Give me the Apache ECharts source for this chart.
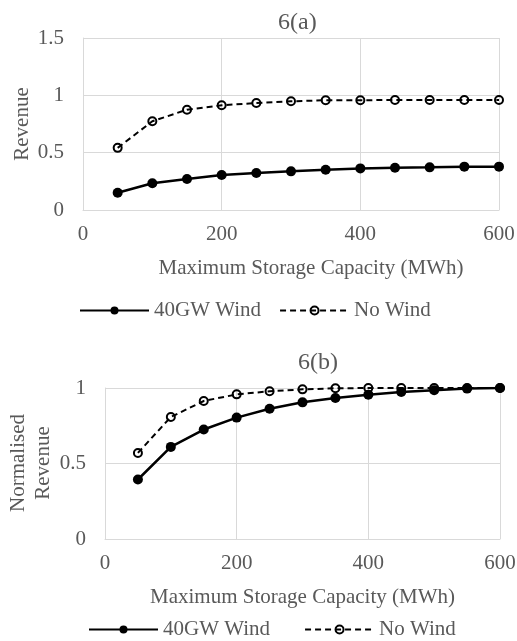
<!DOCTYPE html>
<html><head><meta charset="utf-8">
<script src="https://cdn.jsdelivr.net/npm/echarts@6/dist/echarts.min.js"></script>
<style>html,body{margin:0;padding:0;background:#fff}#c{width:517px;height:641px}</style>
</head><body><div id="c"></div>
<script>
const capacity = [50,100,150,200,250,300,350,400,450,500,550,600];
const revWind = [0.151,0.233,0.27,0.305,0.323,0.337,0.351,0.363,0.369,0.372,0.378,0.378];
const revNoWind = [0.542,0.774,0.875,0.913,0.933,0.948,0.957,0.957,0.96,0.96,0.96,0.96];
const normWind = [0.394,0.61,0.725,0.804,0.863,0.905,0.934,0.956,0.974,0.985,0.996,1.0];
const normNoWind = [0.57,0.808,0.914,0.958,0.978,0.991,0.998,1.0,1.0,1.0,1.0,1.0];
const titles = ['6(a)','6(b)'];
const seriesNames = ['40GW Wind','No Wind'];
const xName = 'Maximum Storage Capacity (MWh)';
const yNames = ['Revenue','Normalised\nRevenue'];

const FONT = 'Liberation Serif';
const TXT = '#595959';
const GRID = '#d9d9d9';
const pair = (xs, ys) => xs.map((x,i)=>[x, ys[i]]);

function xAxis(gi, padLeft){
  return {type:'value', gridIndex:gi, min:0, max:600, interval:200,
    name:xName, nameLocation:'middle', nameGap:48,
    nameTextStyle:{fontFamily:FONT, fontSize:21, color:TXT, padding:[0,0,0,padLeft]},
    axisLine:{show:true, lineStyle:{color:GRID, width:1}},
    axisTick:{show:false},
    axisLabel:{fontFamily:FONT, fontSize:21, color:TXT, margin:14},
    splitLine:{show:true, lineStyle:{color:GRID, width:1}}};
}
function yAxis(gi, max){
  return {type:'value', gridIndex:gi, min:0, max:max, interval:0.5,
    axisLine:{show:true, lineStyle:{color:GRID, width:1}},
    axisTick:{show:false},
    axisLabel:{fontFamily:FONT, fontSize:21, color:TXT, margin:19},
    splitLine:{show:true, lineStyle:{color:GRID, width:1}}};
}
function yTitle(text, x, y){
  return {type:'text', x:x, y:y, rotation:Math.PI/2,
    style:{text:text, font:'21px "Liberation Serif"', fill:TXT, align:'center', verticalAlign:'middle', lineHeight:25}};
}
function solid(gi, data){
  return {name:seriesNames[0], type:'line', xAxisIndex:gi, yAxisIndex:gi, data:data,
    symbol:'circle', symbolSize:10, lineStyle:{color:'#000', width:2.5},
    itemStyle:{color:'#000'}, animation:false};
}
function dashed(gi, data){
  return {name:seriesNames[1], type:'line', xAxisIndex:gi, yAxisIndex:gi, data:data,
    symbol:'circle', symbolSize:8, lineStyle:{color:'#000', width:2, type:[6,4]},
    itemStyle:{color:'rgba(255,255,255,0)', borderColor:'#000', borderWidth:2}, animation:false};
}
function legend(top, left, gap){
  return {top:top, left:left, itemWidth:69, itemHeight:10, itemGap:gap, orient:'horizontal',
    textStyle:{fontFamily:FONT, fontSize:21, color:TXT}, data:seriesNames};
}
const chart = echarts.init(document.getElementById('c'));
chart.setOption({
  backgroundColor:'#fff',
  animation:false,
  title:[
    {text:titles[0], top:6, left:273, textStyle:{fontFamily:FONT, fontSize:24, fontWeight:'normal', color:TXT}},
    {text:titles[1], top:346, left:293, textStyle:{fontFamily:FONT, fontSize:24, fontWeight:'normal', color:TXT}}
  ],
  grid:[
    {left:83, top:38, width:416, height:172, containLabel:false, outerBoundsMode:'none'},
    {left:105, top:388, width:395, height:151, containLabel:false, outerBoundsMode:'none'}
  ],
  xAxis:[xAxis(0,40), xAxis(1,0)],
  yAxis:[yAxis(0,1.5), yAxis(1,1)],
  graphic:[yTitle(yNames[0], 22, 124), yTitle(yNames[1], 31, 463)],
  legend:[legend(295, 74, 18), legend(614, 83, 34)],
  series:[
    solid(0, pair(capacity, revWind)),
    dashed(0, pair(capacity, revNoWind)),
    solid(1, pair(capacity, normWind)),
    dashed(1, pair(capacity, normNoWind))
  ]
});
</script></body></html>
